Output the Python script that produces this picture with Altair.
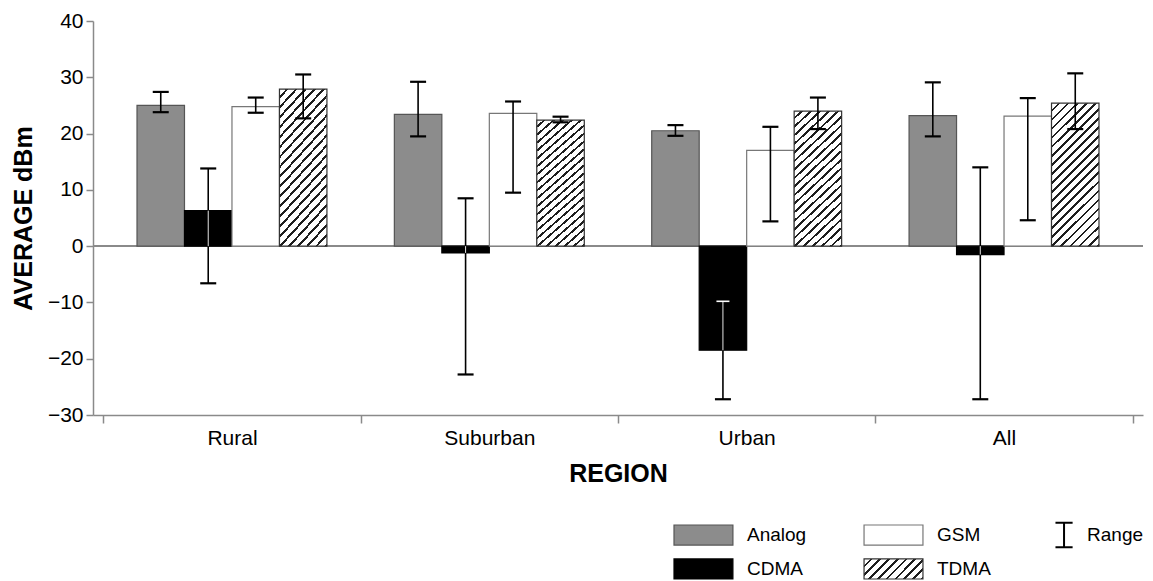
import altair as alt
import pandas as pd

regions = ["Rural", "Suburban", "Urban", "All"]
techs = ["Analog", "CDMA", "GSM", "TDMA"]

analog = [25.0, 23.4, 20.5, 23.2]
analog_lo = [23.8, 19.5, 19.6, 19.5]
analog_hi = [27.4, 29.2, 21.5, 29.1]

cdma = [6.3, -1.2, -18.5, -1.5]
cdma_lo = [-6.6, -22.8, -27.2, -27.2]
cdma_hi = [13.8, 8.5, -9.8, 14.0]

gsm = [24.8, 23.6, 17.0, 23.1]
gsm_lo = [23.7, 9.5, 4.4, 4.6]
gsm_hi = [26.4, 25.7, 21.2, 26.3]

tdma = [27.9, 22.4, 24.0, 25.4]
tdma_lo = [22.7, 22.0, 20.8, 20.8]
tdma_hi = [30.5, 23.0, 26.4, 30.7]

y_ticks = [-30, -20, -10, 0, 10, 20, 30, 40]
range_label = "Range"

series = {
    "Analog": (analog, analog_lo, analog_hi),
    "CDMA": (cdma, cdma_lo, cdma_hi),
    "GSM": (gsm, gsm_lo, gsm_hi),
    "TDMA": (tdma, tdma_lo, tdma_hi),
}
rows = []
for t in techs:
    vals, los, his = series[t]
    for r, v, lo, hi in zip(regions, vals, los, his):
        rows.append({"region": r, "tech": t, "value": v, "lo": lo, "hi": hi})
df = pd.DataFrame(rows)

FONT = "Liberation Sans"
fill_range = ["#8c8c8c", "#000000", "#ffffff", "#ffffff"]
stroke_range = ["#555555", "#000000", "#777777", "#333333"]


def hatch(n, r, color="#1e1e1e", frac=0.3):
    s = (r + 1) / (r * r + 1)
    stops = []
    for i in range(n):
        a = i / n
        b = (i + 1 - frac) / n
        c = (i + 1) / n
        stops += [
            {"offset": a, "color": "#ffffff"},
            {"offset": b, "color": "#ffffff"},
            {"offset": b, "color": color},
            {"offset": c, "color": color},
        ]
    return {"gradient": "linear", "x1": 0, "y1": 0, "x2": r * s, "y2": s, "stops": stops}


ytitle = "AVERAGE dBm"
X = alt.X(
    "region:N",
    sort=regions,
    scale=alt.Scale(domain=regions, paddingInner=0, paddingOuter=0.04),
    axis=alt.Axis(title="REGION", labelAngle=0, tickBand="extent", tickSize=8,
                  labelPadding=4, titlePadding=13),
)
XO = alt.XOffset("tech:N", scale=alt.Scale(domain=techs, paddingInner=0, paddingOuter=0.71))
ysc = alt.Scale(domain=[-30, 40], nice=False, zero=False)
yaxis = alt.Axis(values=y_ticks, title=ytitle, tickSize=7, labelPadding=3, titlePadding=11)

base = alt.Chart(df)

zero = base.mark_rule(color="#8a8a8a", strokeWidth=1.2).encode(
    y=alt.datum(0, scale=ysc, axis=yaxis, title=ytitle)
)

bars = base.transform_filter("datum.tech != 'TDMA'").mark_bar(strokeWidth=1.2).encode(
    x=X, xOffset=XO,
    y=alt.Y("value:Q", scale=ysc, axis=yaxis, title=ytitle),
    fill=alt.Fill("tech:N", scale=alt.Scale(domain=techs, range=fill_range), legend=None),
    stroke=alt.Stroke("tech:N", scale=alt.Scale(domain=techs, range=stroke_range), legend=None),
)

tbars = base.transform_filter("datum.tech == 'TDMA'").mark_bar(
    fill=hatch(21, 0.33), stroke="#333333", strokeWidth=1.2
).encode(
    x=X, xOffset=XO,
    y=alt.Y("value:Q", scale=ysc, axis=yaxis, title=ytitle),
)

err = base.mark_rule(color="black", strokeWidth=1.6).encode(
    x=X, xOffset=XO,
    y=alt.Y("lo:Q", scale=ysc, axis=yaxis, title=ytitle), y2="hi:Q",
)
cap_lo = base.mark_tick(color="black", thickness=2.2, size=16, opacity=1).encode(
    x=X, xOffset=XO, y=alt.Y("lo:Q", scale=ysc, axis=yaxis, title=ytitle),
)
cap_hi = base.mark_tick(color="black", thickness=2.2, size=16, opacity=1).encode(
    x=X, xOffset=XO, y=alt.Y("hi:Q", scale=ysc, axis=yaxis, title=ytitle),
)

inner = base.transform_filter("datum.tech == 'CDMA'").transform_calculate(
    inlo="datum.value < 0 ? max(datum.lo, datum.value) : max(datum.lo, 0)",
    inhi="datum.value < 0 ? min(datum.hi, 0) : min(datum.hi, datum.value)",
).transform_filter("datum.inhi > datum.inlo").mark_rule(color="white", strokeWidth=0.9).encode(
    x=X, xOffset=XO,
    y=alt.Y("inlo:Q", scale=ysc, axis=yaxis, title=ytitle), y2="inhi:Q",
)
inner_cap = base.transform_filter(
    "datum.tech == 'CDMA' && datum.value < 0 && datum.hi < 0 && datum.hi > datum.value"
).mark_tick(color="white", thickness=1.6, size=13, opacity=1).encode(
    x=X, xOffset=XO, y=alt.Y("hi:Q", scale=ysc, axis=yaxis, title=ytitle),
)

main = alt.layer(zero, bars, tbars, err, cap_lo, cap_hi, inner, inner_cap).properties(
    width=1050, height=394
)

# legend
leg = pd.DataFrame({
    "tech": techs,
    "col": [i // 2 for i in range(len(techs))],
    "row": [i % 2 for i in range(len(techs))],
})
rng = pd.DataFrame({"label": [range_label], "col": [2], "row": [0]})

LX = alt.X("col:O", scale=alt.Scale(domain=[0, 1, 2], range=[581, 1020], paddingInner=0.69, paddingOuter=0), axis=None)
LY = alt.Y("row:O", scale=alt.Scale(domain=[0, 1], paddingInner=0.41, paddingOuter=0), axis=None)

lsw = alt.Chart(leg).transform_filter("datum.tech != 'TDMA'").mark_rect(strokeWidth=1.2).encode(
    x=LX, y=LY,
    fill=alt.Fill("tech:N", scale=alt.Scale(domain=techs, range=fill_range), legend=None),
    stroke=alt.Stroke("tech:N", scale=alt.Scale(domain=techs, range=stroke_range), legend=None),
)
lsw_t = alt.Chart(leg).transform_filter("datum.tech == 'TDMA'").mark_rect(
    fill=hatch(9, 2.95), stroke="#333333", strokeWidth=1.2
).encode(x=LX, y=LY)
ltxt = alt.Chart(leg).mark_text(align="left", baseline="middle", dx=43.5, fontSize=19, font=FONT, color="black").encode(
    x=LX, y=LY, text="tech:N"
)
rsym = alt.Chart(rng).mark_point(
    shape="M-0.7,-1H0.7M0,-1V1M-0.7,1H0.7", size=600, filled=False, color="black",
    strokeWidth=2, opacity=1, xOffset=-19.5
).encode(x=LX, y=LY)
rtxt = alt.Chart(rng).mark_text(align="left", baseline="middle", dx=3.5, fontSize=19, font=FONT, color="black").encode(
    x=LX, y=LY, text="label:N"
)
legend = alt.layer(lsw, lsw_t, ltxt, rsym, rtxt).properties(width=1040, height=54)

chart = alt.vconcat(main, legend, spacing=32, padding={"left": 3, "top": 2, "right": 0, "bottom": 0}).resolve_scale(
    x="independent", y="independent", fill="independent", stroke="independent"
).configure_view(stroke=None).configure_axis(
    labelFont=FONT, titleFont=FONT, labelFontSize=21, titleFontSize=25, titleFontWeight="bold",
    labelColor="black", titleColor="black", domainColor="#8a8a8a", tickColor="#8a8a8a",
    domainWidth=1.5, tickWidth=1.5, grid=False,
)

chart.save("out.html", embed_options={"renderer": "svg", "actions": False})
